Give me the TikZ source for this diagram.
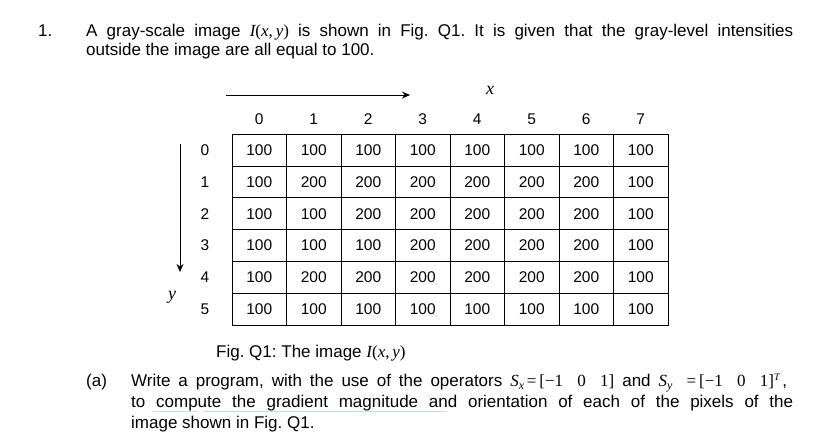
\documentclass[tikz,border=0pt]{standalone}
\usepackage{fontspec}
\usetikzlibrary{arrows.meta}
\setmainfont{Liberation Sans}
\newfontfamily\tms{Liberation Serif}
\newcommand{\mi}[1]{{\tms\itshape #1}}
\newcommand{\mr}[1]{{\tms #1}}
\begin{document}
\begin{tikzpicture}[x=1pt,y=-1pt,
  txt/.style={anchor=base west,inner sep=0pt,font=\fontsize{17}{19}\selectfont\frenchspacing},
  num/.style={inner sep=0pt,font=\fontsize{15.5}{18}\selectfont},
  ul/.style={draw=cyan!30,line width=0.6pt}]
\useasboundingbox (0,0) rectangle (828,440);
\node[txt] (n1) at (38,36) {1.};
\node[txt] (l1) at (86,36) {\makebox[707pt][s]{A gray-scale image \mi{I}\mr{(}\mi{x}\mr{,\,}\mi{y}\mr{)} is shown in Fig. Q1. It is given that the gray-level intensities}};
\node[txt] (l2) at (86,55) {outside the image are all equal to 100.};
% table
\draw[line width=0.6pt] (232,134) rectangle (668,325);
\foreach \i in {1,...,7} \draw[line width=0.6pt] (232+\i*54.5,134) -- (232+\i*54.5,325);
\foreach \j in {1,...,5} \draw[line width=0.6pt] (232,134+\j*31.83) -- (668,134+\j*31.83);
\foreach \i in {0,...,7} \node[num] (c\i) at (259.25+\i*54.5,119) {\i};
\foreach \j in {0,...,5} \node[num] (r\j) at (205,150+\j*31.83) {\j};
\foreach \r [count=\j from 0] in {
 {100,100,100,100,100,100,100,100},
 {100,200,200,200,200,200,200,100},
 {100,100,200,200,200,200,200,100},
 {100,100,100,200,200,200,200,100},
 {100,200,200,200,200,200,200,100},
 {100,100,100,100,100,100,100,100}}
 {\foreach \v [count=\i from 0] in \r
   \node[num] (v\i\j) at (259.25+\i*54.5,150+\j*31.83) {\v};}
\coordinate (xa) at (226,95); \coordinate (xb) at (410,95);
\draw[line width=1pt,-{Stealth[length=8pt,width=7pt]}] (xa) -- (xb);
\node[inner sep=0pt] (xl) at (490,90) {\fontsize{18}{19}\selectfont\mi{x}};
\coordinate (ya) at (180,144); \coordinate (yb) at (180,272);
\draw[line width=1pt,-{Stealth[length=8pt,width=7pt]}] (ya) -- (yb);
\node[inner sep=0pt] (yl) at (172,297) {\fontsize{18}{19}\selectfont\mi{y}};
\node[txt] (cap) at (216,357) {Fig. Q1: The image \mi{I}\mr{(}\mi{x}\mr{,\,}\mi{y}\mr{)}};
\node[txt] (a) at (86,386) {(a)};
\node[txt] (a1) at (131,386) {\makebox[656pt][s]{Write a program, with the use of the operators \mi{S}\raisebox{-3pt}{\fontsize{12}{12}\selectfont\mi{x}}\mr{\,=\,[\textminus1\ \ 0\ \ 1]} and \mi{S}\raisebox{-3pt}{\fontsize{12}{12}\selectfont\mi{y}}\mr{\ \ =\,[\textminus1\ \ 0\ \ 1]}\raisebox{6pt}{\fontsize{10}{10}\selectfont\mi{T}}\,,}};
\node[txt] (a2) at (131,407) {\makebox[662pt][s]{to compute the gradient magnitude and orientation of each of the pixels of the}};
\node[txt] (a3) at (131,428) {image shown in Fig. Q1.};
\coordinate (u1) at (153,411); \coordinate (u2) at (198,411);
\coordinate (u3) at (203,411); \coordinate (u4) at (446,411);
\draw[ul] (u1) -- (u2); \draw[ul] (u3) -- (u4);
\end{tikzpicture}
\end{document}
